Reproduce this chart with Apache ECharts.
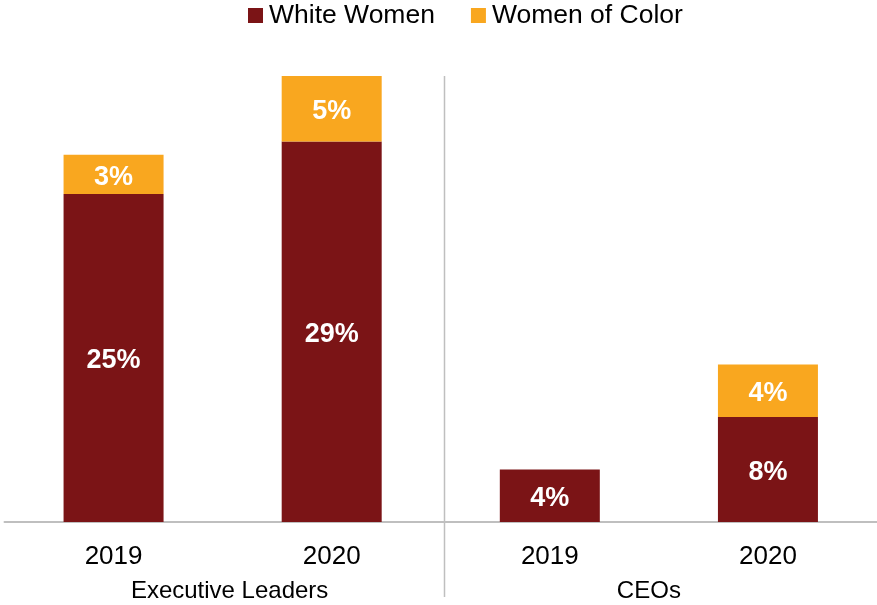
<!DOCTYPE html>
<html><head><meta charset="utf-8">
<script src="https://cdn.jsdelivr.net/npm/echarts@6/dist/echarts.min.js"></script>
<style>html,body{margin:0;padding:0;background:#fff}#c{width:877px;height:605px}</style>
</head><body><div id="c"></div>
<script>
const years = ['2019', '2020', '2019', '2020'];
const groups = ['Executive Leaders', 'CEOs'];
const whiteWomen = [25, 29, 4, 8];
const womenOfColor = [3, 5, 0, 4];
const seriesNames = ['White Women', 'Women of Color'];

const FONT = '"Liberation Sans", Arial, sans-serif';
const chart = echarts.init(document.getElementById('c'), null, {renderer: 'canvas'});
const lbl = {show: true, position: 'inside', color: '#fff', fontWeight: 'bold', fontSize: 27, fontFamily: FONT,
  offset: [0, 3], formatter: p => p.value ? p.value + '%' : ''};
chart.setOption({
  animation: false,
  textStyle: {fontFamily: FONT},
  legend: {
    top: 0, left: 243, padding: [2, 5], itemWidth: 15, itemHeight: 15, itemGap: 36, icon: 'rect',
    textStyle: {fontSize: 26.5, color: '#000', fontFamily: FONT, padding: [0, 0, 0, 1]},
    data: seriesNames
  },
  grid: {left: 4.5, right: 0, top: 76, bottom: 83},
  xAxis: [
    {type: 'category', data: years, axisLine: {lineStyle: {color: '#bfbfbf', width: 2}},
     axisTick: {show: false}, axisLabel: {fontSize: 26, color: '#000', margin: 22, fontFamily: FONT}},
    {type: 'category', data: groups, position: 'bottom', offset: 40, axisLine: {show: false},
     axisTick: {show: false},
     axisLabel: {fontSize: 24, color: '#000', margin: 17, fontFamily: FONT,
       formatter: (v, i) => i === 0 ? '{a|' + v + '}' : '{b|' + v + '}',
       rich: {a: {fontSize: 24, fontFamily: FONT, padding: [0, 0, 0, 14]},
              b: {fontSize: 24, fontFamily: FONT, padding: [0, 20, 0, 0]}}}}
  ],
  yAxis: {type: 'value', min: 0, max: 34, show: false, splitLine: {show: false}},
  series: [
    {name: seriesNames[0], type: 'bar', stack: 's', data: whiteWomen, barWidth: 100,
     itemStyle: {color: '#7B1416'}, label: lbl},
    {name: seriesNames[1], type: 'bar', stack: 's', data: womenOfColor, barWidth: 100,
     itemStyle: {color: '#F9A71F'}, label: lbl}
  ]
});
// separator between the two groups
const a = chart.convertToPixel({xAxisIndex: 0}, 1);
const b = chart.convertToPixel({xAxisIndex: 0}, 2);
const sx = Math.round((a + b) / 2) + 3.5;
chart.setOption({graphic: [{type: 'line', shape: {x1: sx, y1: 76, x2: sx, y2: 597},
  style: {stroke: '#bfbfbf', lineWidth: 1.5}, z: -1}]});
</script></body></html>
